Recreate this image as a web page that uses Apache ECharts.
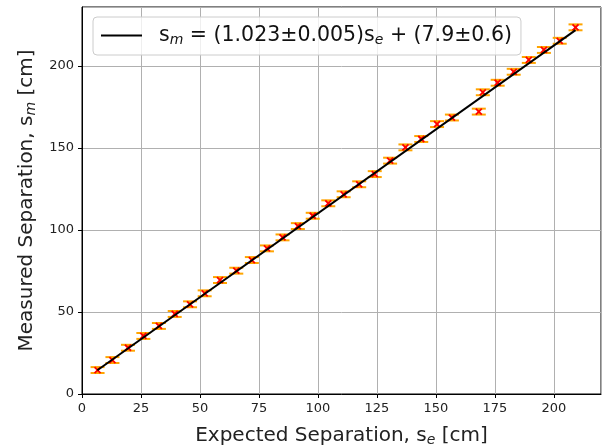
<!DOCTYPE html>
<html><head><meta charset="utf-8">
<script src="https://cdn.jsdelivr.net/npm/echarts@6/dist/echarts.min.js"></script>
<style>html,body{margin:0;padding:0;background:#fff}#c{width:606px;height:447px}</style>
</head><body><div id="c"></div>
<script>
const expected = [6.6, 12.9, 19.5, 26.0, 32.6, 39.3, 45.8, 52.0, 58.5, 65.4, 72.0, 78.4, 85.0, 91.5, 97.8, 104.4, 110.9, 117.5, 124.1, 130.6, 137.1, 143.8, 150.5, 156.8, 168.2, 169.9, 176.2, 183.0, 189.4, 195.8, 202.5, 209.2];
const measured = [14.6, 20.7, 28.2, 35.4, 41.5, 48.8, 54.7, 61.4, 69.5, 75.2, 81.7, 88.8, 95.5, 102.4, 108.7, 116.3, 121.8, 127.9, 134.1, 142.3, 150.4, 155.5, 164.6, 168.6, 172.2, 184.0, 189.8, 196.5, 203.7, 209.8, 215.4, 223.6];
const measuredErr = [1.8, 1.8, 1.8, 1.8, 1.8, 1.8, 1.8, 1.8, 1.8, 1.8, 1.8, 1.8, 1.8, 1.8, 1.8, 1.8, 1.8, 1.8, 1.8, 1.8, 1.8, 1.8, 1.8, 1.8, 1.8, 1.8, 1.8, 1.8, 1.8, 1.8, 1.8, 1.8];
const fitX = [6.5, 209.2];
const fitY = [14.5, 221.9];
const xAxisRange = [0, 220];
const yAxisRange = [0, 236];
const tickStep = [25, 50];

const FONT = 'DejaVu Sans';
const pts = expected.map((x, i) => [x, measured[i], measuredErr[i]]);
const fitData = fitX.map((x, i) => [x, fitY[i]]);

const chart = echarts.init(document.getElementById('c'), null, {renderer: 'canvas'});
const axisCommon = {
  axisLine: {show: true, onZero: false, lineStyle: {color: '#000', width: 1}},
  axisTick: {show: true, length: 4, inside: false, lineStyle: {color: '#000'}},
  axisLabel: {color: '#222', fontFamily: FONT, fontSize: 13, showMaxLabel: false},
  splitLine: {show: true, lineStyle: {color: '#b0b0b0', width: 1}},
  nameLocation: 'middle',
  nameTextStyle: {color: '#222', fontFamily: FONT, fontSize: 20,
    rich: {t: {fontFamily: FONT, fontSize: 20, color: '#222'},
           sub: {fontFamily: FONT, fontSize: 14, fontStyle: 'italic', color: '#222', padding: [9, 0, 0, 0]}}}
};
chart.setOption({
  animation: false,
  backgroundColor: '#fff',
  grid: {left: 82, right: 5, top: 7, bottom: 53, show: true, borderColor: '#000', borderWidth: 1,
         containLabel: false, outerBoundsMode: 'none'},
  legend: {
    left: 93, top: 17,
    padding: [8, 9, 8, 8],
    borderColor: '#cccccc', borderWidth: 1, borderRadius: 4,
    backgroundColor: 'rgba(255,255,255,0.8)',
    itemWidth: 41, itemHeight: 14,
    data: [{name: 'fit', icon: 'path://M0,6L41,6L41,8L0,8Z', itemStyle: {color: '#000'}}],
    formatter: () => '{pad|}{t|s}{sub|m}{t| = (1.023±0.005)s}{sub|e}{t| + (7.9±0.6)}',
    textStyle: {rich: {
      pad: {width: 12},
      t: {fontFamily: FONT, fontSize: 20.5, color: '#111'},
      sub: {fontFamily: FONT, fontSize: 14, fontStyle: 'italic', color: '#111', padding: [9, 0, 0, 0]}
    }}
  },
  xAxis: Object.assign({}, axisCommon, {
    type: 'value', min: xAxisRange[0], max: xAxisRange[1], interval: tickStep[0],
    name: '{t|Expected Separation, s}{sub|e}{t| [cm]}', nameGap: 30
  }),
  yAxis: Object.assign({}, axisCommon, {
    type: 'value', min: yAxisRange[0], max: yAxisRange[1], interval: tickStep[1],
    name: '{t|Measured Separation, s}{sub|m}{t| [cm]}', nameGap: 42
  }),
  series: [
    {
      type: 'custom', name: 'data', data: pts, z: 2,
      renderItem: function (params, api) {
        const x = api.value(0), y = api.value(1), e = api.value(2);
        const top = api.coord([x, y + e]), bot = api.coord([x, y - e]), c = api.coord([x, y]);
        const cap = 7, m = 3;
        const orange = {stroke: '#FFA500', lineWidth: 2};
        const red = {stroke: '#FF0000', lineWidth: 1.8};
        return {type: 'group', children: [
          {type: 'line', shape: {x1: top[0], y1: top[1], x2: bot[0], y2: bot[1]}, style: orange},
          {type: 'line', shape: {x1: top[0] - cap, y1: top[1], x2: top[0] + cap, y2: top[1]}, style: orange},
          {type: 'line', shape: {x1: bot[0] - cap, y1: bot[1], x2: bot[0] + cap, y2: bot[1]}, style: orange},
          {type: 'line', shape: {x1: c[0] - m, y1: c[1] - m, x2: c[0] + m, y2: c[1] + m}, style: red},
          {type: 'line', shape: {x1: c[0] - m, y1: c[1] + m, x2: c[0] + m, y2: c[1] - m}, style: red}
        ]};
      }
    },
    {
      type: 'line', name: 'fit', data: fitData, showSymbol: false, symbol: 'none', z: 3,
      lineStyle: {color: '#000', width: 2}, itemStyle: {color: '#000'}
    }
  ]
});
</script></body></html>
